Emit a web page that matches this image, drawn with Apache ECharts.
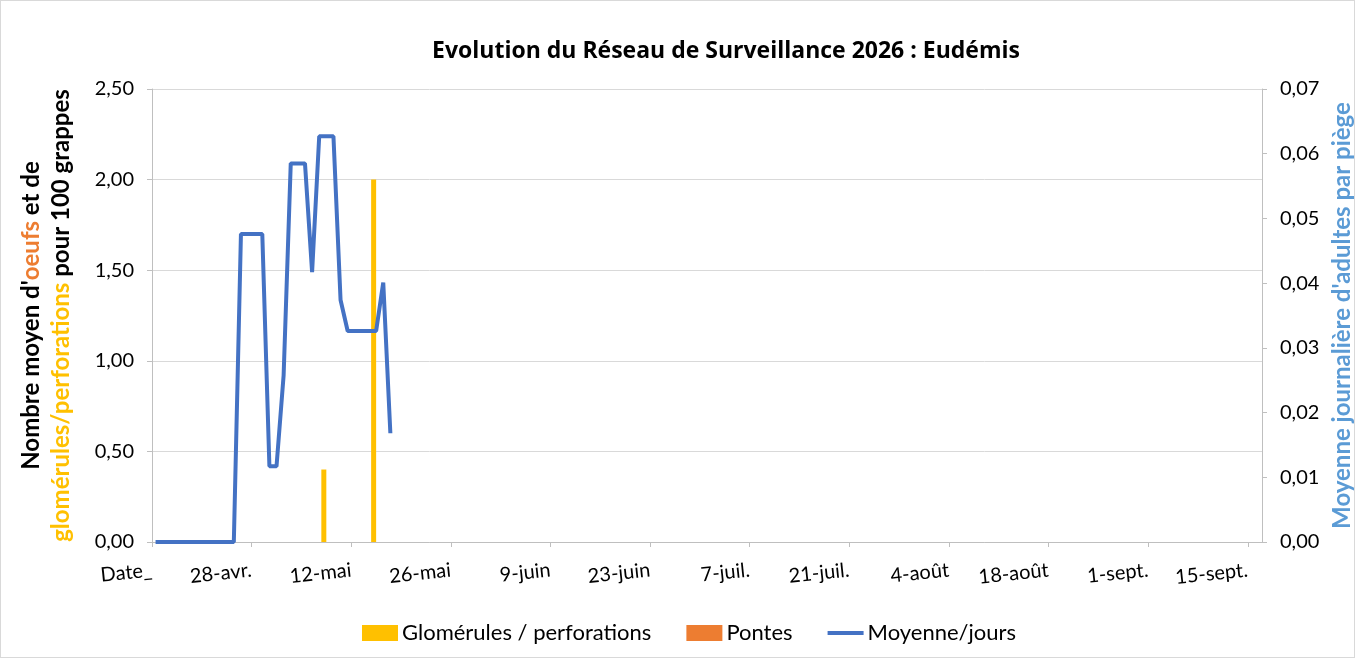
<!DOCTYPE html>
<html>
<head>
<meta charset="utf-8">
<script src="https://cdn.jsdelivr.net/npm/echarts@6/dist/echarts.min.js"></script>
<style>
  html, body { margin: 0; padding: 0; background: #fff; }
  #chart { width: 1353px; height: 656px; border: 1px solid #d9d9d9; }
</style>
</head>
<body>
<div id="chart"></div>
<script>
// labels des graduations (tous les 14 jours, jour 0 = "Date_")
const tickLabels = ['Date_', '28-avr.', '12-mai', '26-mai', '9-juin', '23-juin', '7-juil.',
  '21-juil.', '4-août', '18-août', '1-sept.', '15-sept.']

// moyenne journalière d'adultes par piège (un point par jour depuis Date_)
const moyenneJours = [0, 0, 0, 0, 0, 0, 0, 0, 0, 0, 0, 0,
  0.0476, 0.0476, 0.0476, 0.0476, 0.0117, 0.0117, 0.0258, 0.0585, 0.0585, 0.0585,
  0.0417, 0.0627, 0.0627, 0.0627, 0.0374, 0.0326, 0.0326, 0.0326, 0.0326, 0.0326,
  0.0401, 0.0168]

// relevés sur grappes
const releveJours = [24, 31]
const glomerules = [0.40, 2.00]
const pontes = [0, 0]

// l'axe des dates va un peu au-delà du 15-sept.
const DAYS_MAX = 156
const fmt = (v, d) => v.toFixed(d).replace('.', ',')

// les points sont placés au milieu de leur journée
const lineData = moyenneJours.map((v, i) => [i + 0.5, v])
const glomData = releveJours.map((d, i) => [d + 0.5, glomerules[i]])
const ponteData = releveJours.map((d, i) => [d + 0.5, pontes[i]])

const font = 'Lato, "Open Sans", sans-serif'
const titleFont = '"Open Sans", Lato, sans-serif'
const chart = echarts.init(document.getElementById('chart'))

chart.setOption({
  animation: false,
  textStyle: { fontFamily: font },
  title: {
    text: 'Evolution du Réseau de Surveillance 2026 : Eudémis',
    left: 720,
    top: 34,
    textAlign: 'center',
    textStyle: { fontFamily: titleFont, fontSize: 23, fontWeight: 'bold', color: '#000' },
  },
  legend: {
    top: 616,
    left: 356,
    itemWidth: 36,
    itemHeight: 16,
    itemGap: 35,
    textStyle: { fontFamily: font, fontSize: 22, color: '#000', padding: [0, 0, 0, -1] },
    data: [
      { name: 'Glomérules / perforations', icon: 'rect' },
      { name: 'Pontes', icon: 'rect' },
      { name: 'Moyenne/jours', icon: 'path://M0,0M36,16M0,6L36,6L36,10L0,10Z' },
    ],
  },
  grid: { left: 151, right: 92, top: 88, bottom: 115, outerBoundsMode: 'none' },
  xAxis: {
    type: 'value',
    min: 0,
    max: DAYS_MAX,
    interval: 14,
    axisLine: { show: true, lineStyle: { color: '#bfbfbf' } },
    axisTick: { show: true, length: 5, lineStyle: { color: '#bfbfbf' } },
    splitLine: { show: false },
    axisLabel: {
      fontFamily: font,
      fontSize: 20,
      color: '#000',
      rotate: 6,
      margin: 28,
      showMaxLabel: false,
      formatter: v => (v % 14 === 0 ? tickLabels[v / 14] ?? '' : ''),
    },
  },
  yAxis: [
    {
      type: 'value',
      min: 0,
      max: 2.5,
      interval: 0.5,
      position: 'left',
      axisLine: { show: true, lineStyle: { color: '#bfbfbf' } },
      axisTick: { show: true, length: 5, lineStyle: { color: '#bfbfbf' } },
      splitLine: { lineStyle: { color: '#d9d9d9' } },
      axisLabel: { fontFamily: font, fontSize: 20, color: '#000', margin: 18, formatter: v => fmt(v, 2) },
      name: "{b|Nombre moyen d'}{o|oeufs}{b| et de}\n{y|glomérules/perforations}{b| pour 100 grappes}",
      nameLocation: 'middle',
      nameRotate: 90,
      nameGap: 76,
      nameTextStyle: {
        lineHeight: 30,
        rich: {
          b: { fontFamily: font, fontSize: 24, fontWeight: 'bold', color: '#000', lineHeight: 30 },
          o: { fontFamily: font, fontSize: 24, fontWeight: 'bold', color: '#ed7d31', lineHeight: 30 },
          y: { fontFamily: font, fontSize: 24, fontWeight: 'bold', color: '#ffc000', lineHeight: 30 },
        },
      },
    },
    {
      type: 'value',
      min: 0,
      max: 0.07,
      interval: 0.01,
      position: 'right',
      axisLine: { show: true, lineStyle: { color: '#bfbfbf' } },
      axisTick: { show: true, length: 5, lineStyle: { color: '#bfbfbf' } },
      splitLine: { show: false },
      axisLabel: { fontFamily: font, fontSize: 20, color: '#000', margin: 18, formatter: v => fmt(v, 2) },
      name: "Moyenne journalière d'adultes par piège",
      nameLocation: 'middle',
      nameRotate: 90,
      nameGap: 60,
      nameTextStyle: { fontFamily: font, fontSize: 24, fontWeight: 'bold', color: '#5b9bd5' },
    },
  ],
  series: [
    {
      name: 'Glomérules / perforations',
      type: 'bar',
      yAxisIndex: 0,
      barWidth: 5,
      barGap: '0%',
      itemStyle: { color: '#ffc000' },
      data: glomData,
    },
    {
      name: 'Pontes',
      type: 'bar',
      yAxisIndex: 0,
      barWidth: 5,
      itemStyle: { color: '#ed7d31' },
      data: ponteData,
    },
    {
      name: 'Moyenne/jours',
      type: 'line',
      yAxisIndex: 1,
      symbol: 'none',
      lineStyle: { color: '#4472c4', width: 4 },
      itemStyle: { color: '#4472c4' },
      data: lineData,
    },
  ],
})
</script>
</body>
</html>
